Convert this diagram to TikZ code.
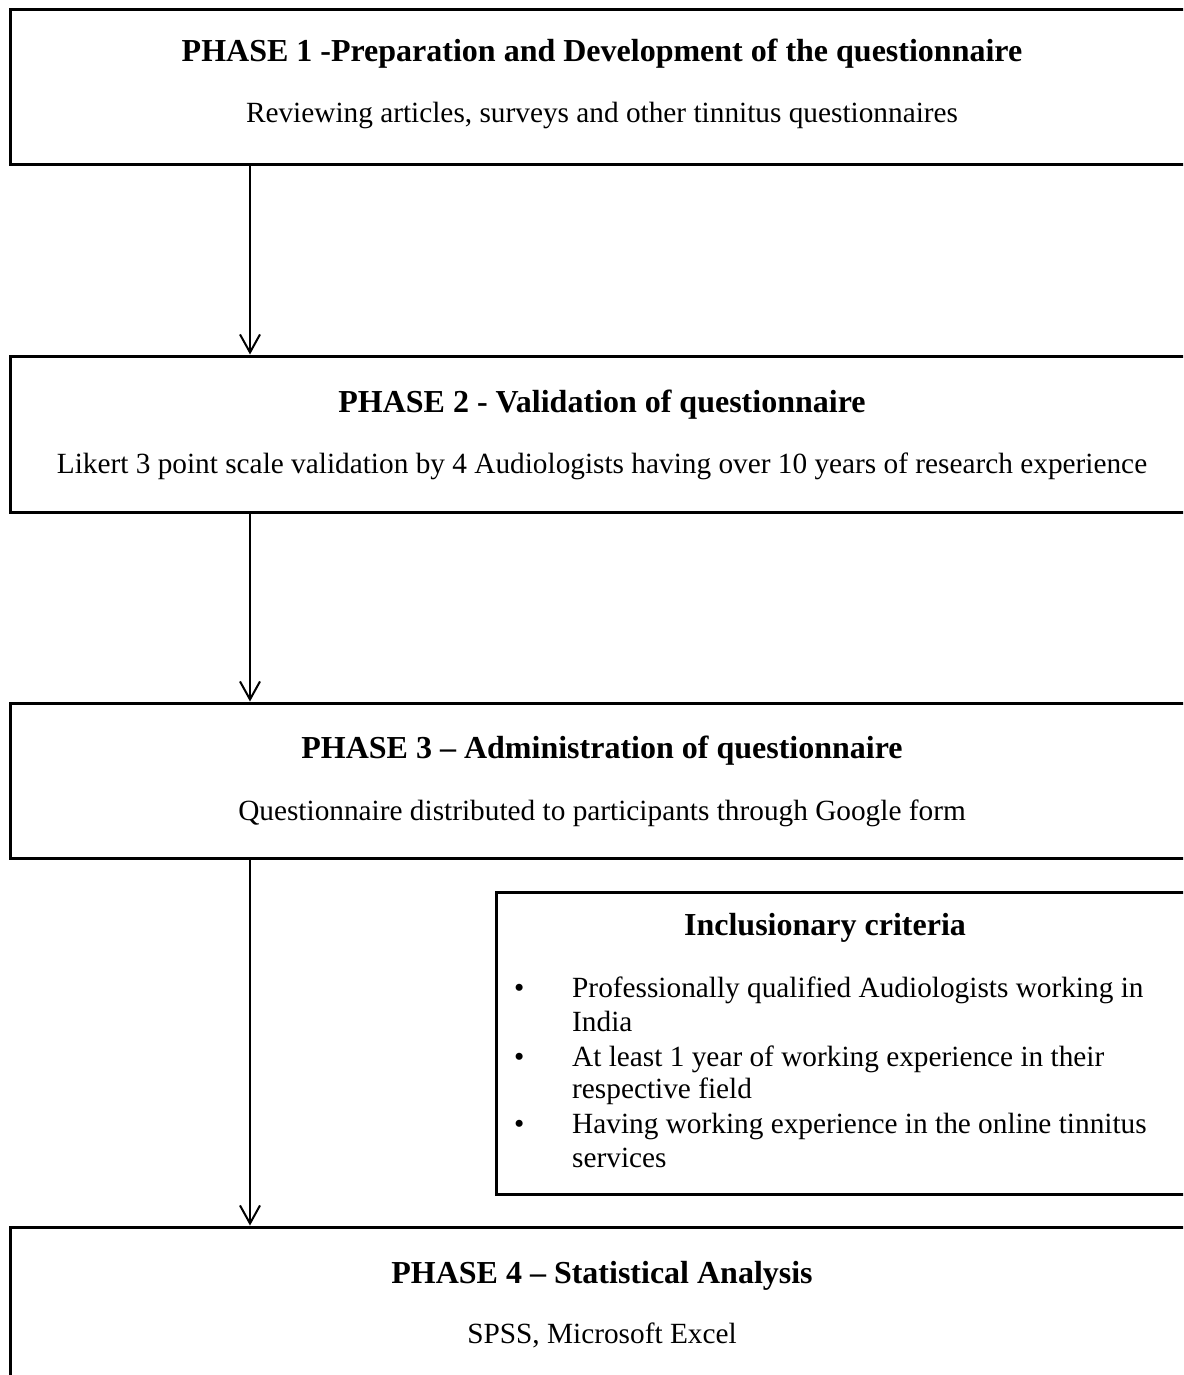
\documentclass[tikz,border=0pt]{standalone}
\usepackage{fontspec}
\setmainfont{Liberation Serif}
\usetikzlibrary{arrows.meta}
\begin{document}
\begin{tikzpicture}[x=1pt,y=-1pt,
  box/.style={draw=black,line width=3pt,minimum width=1184pt,inner sep=0pt,anchor=center},
  head/.style={font=\fontsize{32}{38}\selectfont\bfseries,inner sep=0pt,anchor=base},
  body/.style={font=\fontsize{29.3}{34}\selectfont,inner sep=0pt,anchor=base},
  crit/.style={font=\fontsize{29.3}{34}\selectfont,inner sep=0pt,anchor=base west},
  conn/.style={line width=2pt,-{Straight Barb[length=18pt,width=20pt,line width=2pt]}}]
\useasboundingbox (0,0) rectangle (1183,1375);
\clip (0,0) rectangle (1183,1375);
\fill[white] (0,0) rectangle (1183,1375);
% boxes
\node[box,minimum height=155pt] (b1) at (602,87.5) {};
\node[box,minimum height=156pt] (b2) at (602,434) {};
\node[box,minimum height=155pt] (b3) at (602,780.5) {};
\node[box,minimum height=200pt] (b4) at (602,1327) {};
\node[box,minimum width=704pt,minimum height=302pt] (inc) at (848,1043) {};
% texts
\node[head] (h1) at (602,62) {PHASE 1 -Preparation and Development of the questionnaire};
\node[body] (s1) at (602,123) {Reviewing articles, surveys and other tinnitus questionnaires};
\node[head] (h2) at (602,412) {PHASE 2 - Validation of questionnaire};
\node[body] (s2) at (602,473) {Likert 3 point scale validation by 4 Audiologists having over 10 years of research experience};
\node[head] (h3) at (602,758) {PHASE 3 – Administration of questionnaire};
\node[body] (s3) at (602,820) {Questionnaire distributed to participants through Google form};
\node[head] (hi) at (825,935) {Inclusionary criteria};
\node[crit] (d1) at (514,997) {•};
\node[crit] (t1a) at (572,997) {Professionally qualified Audiologists working in};
\node[crit] (t1b) at (572,1031) {India};
\node[crit] (d2) at (514,1066) {•};
\node[crit] (t2a) at (572,1066) {At least 1 year of working experience in their};
\node[crit] (t2b) at (572,1098) {respective field};
\node[crit] (d3) at (514,1133) {•};
\node[crit] (t3a) at (572,1133) {Having working experience in the online tinnitus};
\node[crit] (t3b) at (572,1167) {services};
\node[head] (h4) at (602,1283) {PHASE 4 – Statistical Analysis};
\node[body] (s4) at (602,1343) {SPSS, Microsoft Excel};
% connectors
\draw[conn] (b1.south -| 250,0) -- (b2.north -| 250,0);
\draw[conn] (b2.south -| 250,0) -- (b3.north -| 250,0);
\draw[conn] (b3.south -| 250,0) -- (b4.north -| 250,0);
\end{tikzpicture}
\end{document}
